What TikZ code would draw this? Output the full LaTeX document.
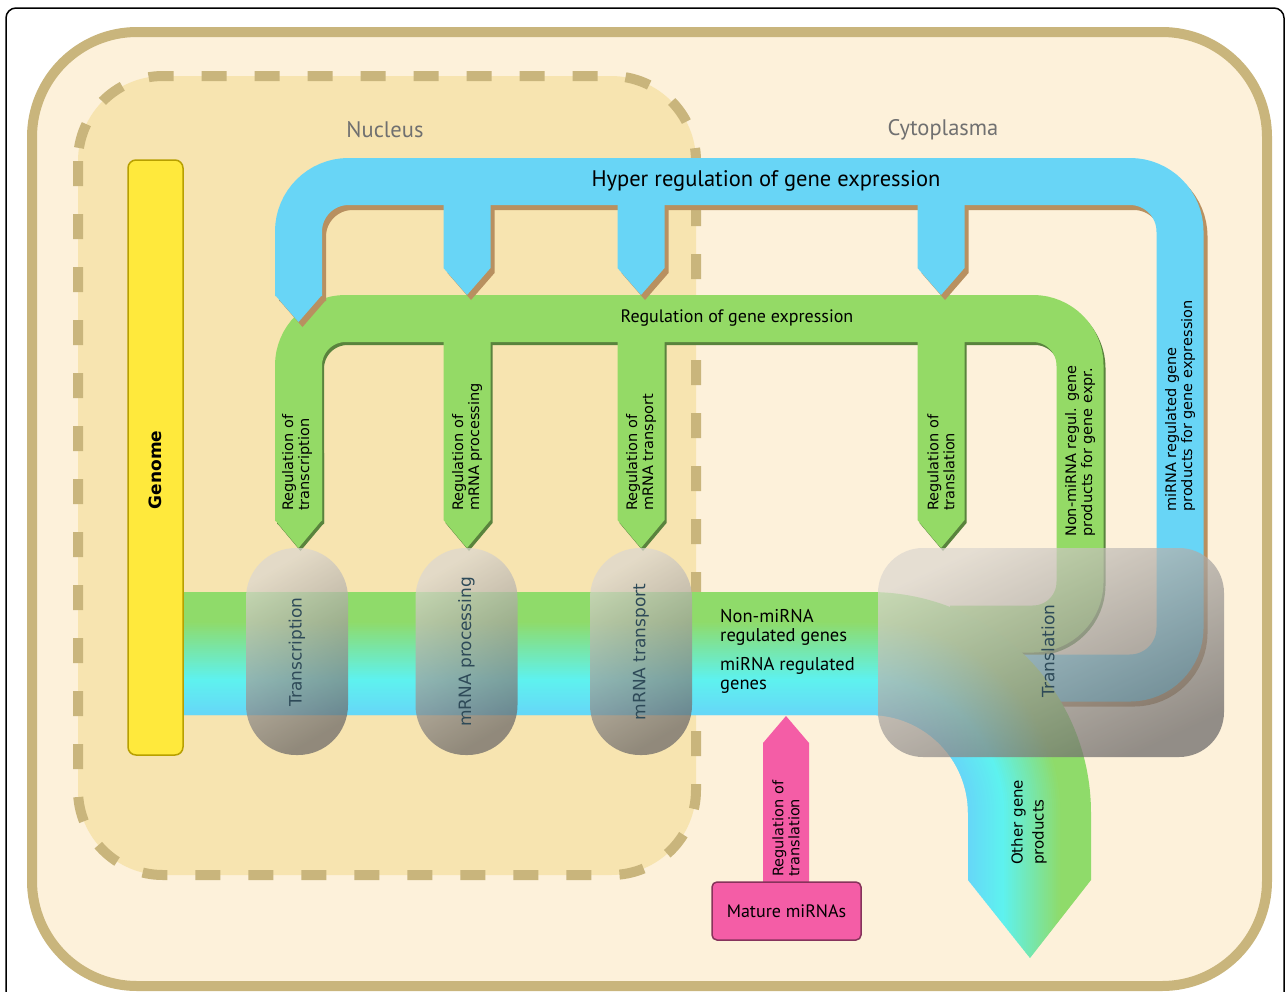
\documentclass[tikz,border=0pt]{standalone}
\usepackage{fontspec}
\setmainfont{PT Sans}
\newfontfamily\verd{DejaVu Sans}

\definecolor{cellc}{HTML}{FDF1DA}
\definecolor{nucc}{HTML}{F7E4B0}
\definecolor{tanc}{HTML}{C9B57C}
\definecolor{regg}{HTML}{94DA66}
\definecolor{hypb}{HTML}{68D5F6}
\definecolor{shadowc}{HTML}{B89060}
\definecolor{bandg}{HTML}{8FDB6A}
\definecolor{bandc}{HTML}{5EF2EF}
\definecolor{bandb}{HTML}{66D6F8}
\definecolor{genomec}{HTML}{FFE93C}
\definecolor{genomeb}{HTML}{B8A000}
\definecolor{mirc}{HTML}{F45DA6}
\definecolor{grayl}{HTML}{DCD7D0}
\definecolor{grayd}{HTML}{6A6767}
\definecolor{labelc}{HTML}{2E4A58}
\definecolor{cellt}{HTML}{707070}

\tikzset{
  legtext/.style={rotate=90, anchor=west, align=left, inner sep=1pt, font=\verd\fontsize{14.5}{16}\selectfont},
  proctext/.style={rotate=90, inner sep=1pt, text=labelc, font=\verd\fontsize{17}{19}\selectfont},
  capsule/.style={top color=grayl, bottom color=grayd, shading angle=30, fill opacity=0.72},
  bandlabel/.style={anchor=north west, align=left, inner sep=0pt, font=\fontsize{18.5}{19}\selectfont},
}

\begin{document}
\begin{tikzpicture}[x=1pt,y=1pt]
\useasboundingbox (0,0) rectangle (1287,-991);

% cell and nucleus
\draw[line width=1.5pt, rounded corners=10pt] (6,-8) rectangle (1284,-1010);
\draw[tanc, line width=10pt, fill=cellc, rounded corners=105pt] (32,-32) rectangle (1267,-986);
\draw[tanc, line width=10pt, dash pattern=on 25pt off 28pt, fill=nucc, rounded corners=85pt] (78,-76) rectangle (696,-875);

\node[text=cellt, font=\fontsize{22.5}{26}\selectfont] (nucleus) at (385,-130) {Nucleus};
\node[text=cellt, font=\fontsize{22.5}{26}\selectfont] (cyto) at (943,-130) {Cytoplasma};

% regulation of gene expression
\foreach \dx/\dy/\col in {2/-3/regg!60!black, 0/0/regg} {
\begin{scope}[shift={(\dx,\dy)}]
  \draw[color=\col, line width=47pt, rounded corners=47pt] (950,-629) -- (1080,-629) -- (1080,-318.5) -- (298.5,-318.5) -- (298.5,-521);
  \fill[color=\col] (275,-450) -- (275,-520) -- (298.5,-548) -- (322,-520) -- (322,-450) -- cycle;
  \foreach \x in {467,641,941}
    \fill[color=\col] (\x-23.5,-330) -- (\x-23.5,-520) -- (\x,-548) -- (\x+23.5,-520) -- (\x+23.5,-330) -- cycle;
\end{scope}}

% hyper regulation
\foreach \dx/\dy/\col in {4/-5/shadowc, 0/0/hypb} {
\begin{scope}[shift={(\dx,\dy)}]
  \draw[color=\col, line width=47pt, rounded corners=50pt] (1000,-678) -- (1180,-678) -- (1180,-181.5) -- (298.5,-181.5) -- (298.5,-296);
  \fill[color=\col] (275,-295) -- (298.5,-322) -- (322,-295) -- cycle;
  \foreach \x in {467,641,941}
    \fill[color=\col] (\x-23.5,-195) -- (\x-23.5,-268) -- (\x,-295) -- (\x+23.5,-268) -- (\x+23.5,-195) -- cycle;
\end{scope}}

% gene band
\begin{scope}
\clip (183,-592) -- (870,-592) arc[start angle=90,end angle=0,radius=221] -- (1091,-880) -- (1030,-958) -- (968,-880) -- (968,-813) arc[start angle=0,end angle=90,radius=98] -- (183,-715) -- cycle;
\foreach \d in {0,2,...,124} {
  \ifnum\d<30 \def\bc{bandg}\else
    \ifnum\d<88 \pgfmathtruncatemacro\p{(\d-30)*100/58}\edef\bc{bandc!\p!bandg}\else
      \pgfmathtruncatemacro\p{(\d-88)*100/36}\edef\bc{bandb!\p!bandc}\fi\fi
  \draw[color=\bc, line width=2.6pt] (183,-592-\d) -- (870,-592-\d) arc[start angle=90,end angle=0,radius=221-\d] -- (1091-\d,-965);
}
\end{scope}

% genome
\draw[genomeb, line width=1.5pt, fill=genomec, rounded corners=8pt] (128,-160) rectangle (183,-755);
\node[rotate=90, font=\verd\bfseries\fontsize{17}{20}\selectfont] (genome) at (155.5,-470) {Genome};

% processing steps
\foreach \x/\name/\txt in {297/trs/Transcription, 466.5/prc/mRNA processing, 641/trp/mRNA transport} {
  \path[capsule, rounded corners=50pt] (\x-51,-548) rectangle (\x+51,-755);
  \node[proctext] (\name) at (\x,-652) {\txt};
}
\path[capsule, rounded corners=45pt, shading angle=25] (878,-548) rectangle (1224,-757);
\node[proctext] (transl) at (1048,-651) {Translation};

% mature miRNAs
\fill[mirc] (763,-884) -- (763,-743) -- (786,-716) -- (809,-743) -- (809,-884) -- cycle;
\draw[mirc!55!black, line width=1.5pt, fill=mirc, rounded corners=5pt] (712,-882) rectangle (861,-940);
\node[font=\fontsize{18}{20}\selectfont] (mature) at (786.5,-911) {Mature miRNAs};
\node[legtext] (regtl) at (786,-878) {Regulation of\\translation};

% labels
\node[font=\fontsize{22.5}{26}\selectfont] (hyper) at (766,-181) {Hyper regulation of gene expression};
\node[font=\fontsize{18}{20}\selectfont] (reg) at (737,-318) {Regulation of gene expression};
\foreach \x/\name/\txt in {297/rtrs/transcription, 467/rprc/mRNA processing, 641/rtrp/mRNA transport, 941/rtl/translation}
  \node[legtext] (\name) at (\x,-512) {Regulation of\\\txt};
\node[legtext] (nonmir) at (1080,-538) {Non-miRNA regul. gene\\products for gene expr.};
\node[legtext] (mirprod) at (1180,-513) {miRNA regulated gene\\products for gene expression};
\node[legtext, font=\verd\fontsize{15}{21}\selectfont] (other) at (1029,-866) {Other gene\\products};
\node[bandlabel] (nonmirg) at (720,-609) {Non-miRNA\\regulated genes};
\node[bandlabel] (mirg) at (720,-657) {miRNA regulated\\genes};

\end{tikzpicture}
\end{document}
